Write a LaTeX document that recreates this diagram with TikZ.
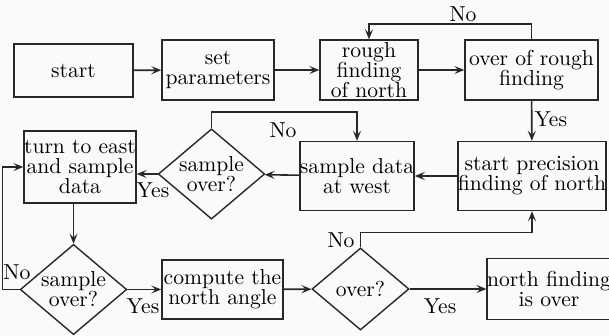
\documentclass[tikz,border=0pt]{standalone}
\usepackage{tikz}
\usetikzlibrary{positioning,arrows.meta,shapes.geometric}
\definecolor{flowline}{RGB}{40,40,40}
\definecolor{flowbg}{RGB}{250,250,250}
\tikzset{
  blk/.style={draw=flowline,line width=0.7pt,inner sep=0pt,align=center,
    font=\fontsize{10.8}{10}\selectfont},
  dec/.style={draw=flowline,line width=0.7pt,shape=diamond,aspect=1.18,
    inner sep=0pt,align=center,minimum width=48.5pt,minimum height=41pt,
    font=\fontsize{10.8}{10}\selectfont},
  flow/.style={draw=flowline,line width=0.8pt,-{Stealth[length=5pt,width=4pt,inset=2pt]}},
  lbl/.style={font=\fontsize{10.8}{10}\selectfont,inner sep=1pt}
}
\begin{document}
\begin{tikzpicture}[x=0.5pt,y=-0.5pt]
  \fill[flowbg] (0,0) rectangle (609,336);
  \useasboundingbox (0,0) rectangle (609,336);
  % top row
  \node[blk,minimum width=59.5pt,minimum height=26.5pt] (start) at (73.5,70.5) {start};
  \node[blk,minimum width=56pt,minimum height=30pt] (setp) at (218,70) {set\\parameters};
  \node[blk,minimum width=49pt,minimum height=30pt] (rough) at (369,70) {rough\\finding\\of north};
  \node[blk,minimum width=66.5pt,minimum height=30pt] (overr) at (531.5,70) {over of rough\\finding};
  % middle row
  \node[blk,minimum width=74pt,minimum height=34.5pt] (prec) at (532,176) {start precision\\finding of north};
  \node[blk,minimum width=55pt,minimum height=34.5pt] (west) at (357,176) {sample data\\at west};
  \node[dec] (dia1) at (211.5,174) {sample\\over?};
  \node[blk,minimum width=56pt,minimum height=36pt] (turn) at (80,167) {turn to east\\and sample\\data};
  % bottom row
  \node[dec] (dia2) at (73.5,289.5) {sample\\over?};
  \node[blk,minimum width=60.5pt,minimum height=29.5pt] (comp) at (222.5,289.5) {compute the\\north angle};
  \node[dec] (dia3) at (360.5,289) {over?};
  \node[blk,minimum width=59pt,minimum height=30.5pt] (north) at (549,289) {north finding\\is over};

  \draw[flow] (start) -- (setp);
  \draw[flow] (setp) -- (rough);
  \draw[flow] (rough) -- (overr);
  \draw[flow] (overr.north) -- ++(0,-15) -| (rough.north);
  \node[lbl] (no1) at (463,14) {No};
  \draw[flow] (overr) -- (prec) node[lbl,pos=0.45,right] (yes1) {Yes};
  \draw[flow] (prec) -- (west);
  \draw[flow] (west) -- (dia1);
  \draw[flow] (dia1.north) -- ++(0,-16) -| (west.north);
  \node[lbl] (no2) at (283,130) {No};
  \draw[flow] (dia1.west) -- (dia1.west -| turn.east);
  \node[lbl] (yes2) at (153,190) {Yes};
  \draw[flow] (turn.south -| dia2.north) -- (dia2.north);
  \draw[flow] (dia2.west) -- ++(-17,0) |- (turn.west);
  \node[lbl] (no3) at (17,272) {No};
  \draw[flow] (dia2) -- (comp);
  \node[lbl] (yes3) at (143,306) {Yes};
  \draw[flow] (comp) -- (dia3);
  \draw[flow] (dia3.north) -- ++(0,-15) -| (prec.south);
  \node[lbl] (no4) at (341,240) {No};
  \draw[flow] (dia3) -- (north);
  \node[lbl] (yes4) at (440,306) {Yes};
\end{tikzpicture}
\end{document}
